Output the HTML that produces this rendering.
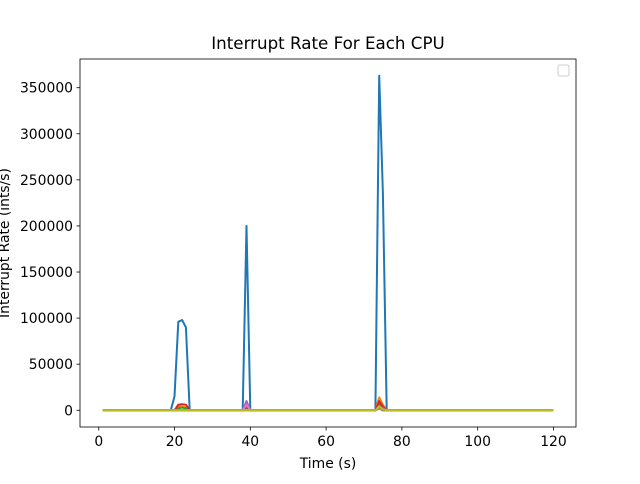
<!DOCTYPE html>
<html><head><meta charset="utf-8"><style>
body{margin:0;background:#fff;font-family:"DejaVu Sans","Liberation Sans",sans-serif}
svg text{font-family:"DejaVu Sans","Liberation Sans",sans-serif;fill:#000}
</style></head><body>
<svg id="chart" width="640" height="480" xmlns="http://www.w3.org/2000/svg">
<rect width="640" height="480" fill="#fff"/>
<text x="328" y="49" font-size="16.7" text-anchor="middle">Interrupt Rate For Each CPU</text>
<g id="series"></g>
<g id="axes"></g>
<rect x="80" y="59" width="496" height="368" fill="none" stroke="#000" stroke-width="0.8"/>
<rect x="558" y="65" width="11" height="11" rx="2" fill="#fff" stroke="#ccc"/>
<text x="328" y="468" font-size="13.9" text-anchor="middle">Time (s)</text>
<text transform="translate(9,243) rotate(-90)" font-size="13.9" text-anchor="middle">Interrupt Rate (ints/s)</text>
</svg>
<script>
const xTicks=[0,20,40,60,80,100,120];
const yTicks=[0,50000,100000,150000,200000,250000,300000,350000];
const cpu0Spikes=[[19,0],[20,15000],[21,96000],[22,98000],[23,90000],[24,0],[38,0],[39,200000],[40,0],[73,0],[74,363000],[75,235000],[76,0]];
const cpu1Spikes=[[20,0],[21,4000],[22,4000],[23,3000],[24,0],[38,0],[39,6000],[40,0],[73,0],[74,14000],[75,6000],[76,0]];
const cpu2Spikes=[[20,0],[21,2000],[22,3000],[23,2000],[24,0],[73,0],[74,8000],[75,3000],[76,0]];
const cpu3Spikes=[[20,0],[21,6000],[22,6500],[23,6000],[24,0],[38,0],[39,5000],[40,0],[73,0],[74,10000],[75,4000],[76,0]];
const cpu4Spikes=[[38,0],[39,10000],[40,0],[73,0],[74,5000],[75,2000],[76,0]];
const cpu5Spikes=[[38,0],[39,3000],[40,0],[73,0],[74,3000],[76,0]];
const cpu6Spikes=[[38,0],[39,6000],[40,0],[73,0],[74,2000],[76,0]];
const cpu7Spikes=[[73,0],[74,2000],[76,0]];
const cpu8Spikes=[[73,0],[74,4000],[75,1000],[76,0]];
const colors=['#1f77b4','#ff7f0e','#2ca02c','#d62728','#9467bd','#8c564b','#e377c2','#7f7f7f','#bcbd22'];
const allSpikes=[cpu0Spikes,cpu1Spikes,cpu2Spikes,cpu3Spikes,cpu4Spikes,cpu5Spikes,cpu6Spikes,cpu7Spikes,cpu8Spikes];
const X0=80,X1=576,Y0=59,Y1=427,xmin=-4.95,xmax=125.95,ymin=-18150,ymax=381150;
const sx=v=>X0+(v-xmin)/(xmax-xmin)*(X1-X0);
const sy=v=>Y1-(v-ymin)/(ymax-ymin)*(Y1-Y0);
const NS='http://www.w3.org/2000/svg';
const sg=document.getElementById('series'),ag=document.getElementById('axes');
allSpikes.forEach((sp,i)=>{
  const m={};sp.forEach(p=>m[p[0]]=p[1]);
  const pts=[];for(let t=1;t<=120;t++)pts.push(sx(t).toFixed(1)+','+sy(m[t]||0).toFixed(1));
  const pl=document.createElementNS(NS,'polyline');
  pl.setAttribute('points',pts.join(' '));pl.setAttribute('fill','none');
  pl.setAttribute('stroke',colors[i]);pl.setAttribute('stroke-width','2');pl.setAttribute('stroke-linejoin','round');
  
  
  sg.appendChild(pl);
});
xTicks.forEach(v=>{
  const l=document.createElementNS(NS,'line');const x=sx(v);
  l.setAttribute('x1',x);l.setAttribute('x2',x);l.setAttribute('y1',Y1);l.setAttribute('y2',Y1+3.5);l.setAttribute('stroke','#000');l.setAttribute('stroke-width','0.8');
  
  
  ag.appendChild(l);
  const t=document.createElementNS(NS,'text');t.setAttribute('x',x);t.setAttribute('y',Y1+19);t.setAttribute('font-size','13.9');t.setAttribute('text-anchor','middle');t.textContent=v;
  
  
  ag.appendChild(t);
});
yTicks.forEach(v=>{
  const l=document.createElementNS(NS,'line');const y=sy(v);
  l.setAttribute('x1',X0-3.5);l.setAttribute('x2',X0);l.setAttribute('y1',y);l.setAttribute('y2',y);l.setAttribute('stroke','#000');l.setAttribute('stroke-width','0.8');
  
  
  ag.appendChild(l);
  const t=document.createElementNS(NS,'text');t.setAttribute('x',X0-7);t.setAttribute('y',y+5);t.setAttribute('font-size','13.9');t.setAttribute('text-anchor','end');t.textContent=v;
  
  
  ag.appendChild(t);
});
</script>
</body></html>
